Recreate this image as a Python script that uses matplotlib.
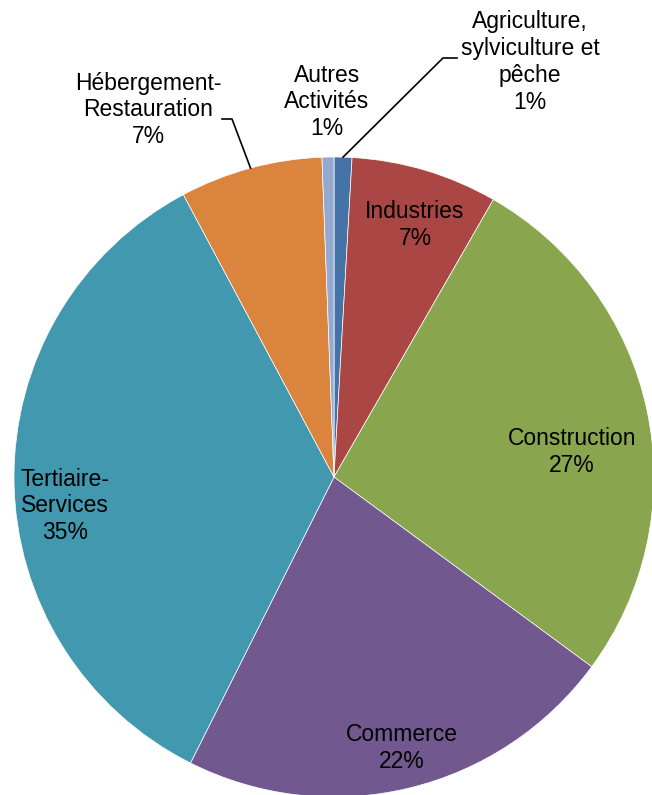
import numpy as np
import matplotlib
matplotlib.use('Agg')
import matplotlib.pyplot as plt

# Répartition des établissements par secteur d'activité (sens horaire depuis midi)
secteurs = ['Agriculture,\nsylviculture et\npêche', 'Industries', 'Construction',
            'Commerce', 'Tertiaire-\nServices', 'Hébergement-\nRestauration',
            'Autres\nActivités']
parts = [0.9, 7.4, 26.8, 22.3, 34.8, 7.2, 0.6]
couleurs = ['#4572A7', '#AA4643', '#89A54E', '#71588F', '#4198AF', '#DB843D', '#93A9CF']

W, H = 652, 795
cx, cy, R = 334, H - 477, 320

plt.rcParams['font.family'] = ['Liberation Sans', 'DejaVu Sans']
fig = plt.figure(figsize=(W / 100, H / 100), dpi=100)
ax = fig.add_axes([0, 0, 1, 1])

wedges, _ = ax.pie(parts, colors=couleurs, startangle=90, counterclock=False,
                   center=(cx, cy), radius=R,
                   wedgeprops=dict(edgecolor='white', linewidth=0.5))
ax.set_xlim(0, W)
ax.set_ylim(0, H)
ax.set_aspect('equal')
ax.axis('off')

total = sum(parts)
labels = [f"{s}\n{round(p / total * 100):.0f}%" for s, p in zip(secteurs, parts)]

def edge_point(i):
    w = wedges[i]
    a = np.deg2rad((w.theta1 + w.theta2) / 2)
    return cx + R * np.cos(a), cy + R * np.sin(a)

txt = dict(ha='center', va='center', fontsize=16.5, linespacing=1.22, color='black')

# position (x, y depuis le haut) de chaque étiquette
label_pos = [(530, 62), (415, 225), (572, 452), (402, 748),
             (65, 506), (148, 110), (327, 102)]
for lab, (x, y) in zip(labels, label_pos):
    ax.text(x, H - y, lab, **txt)

# traits de rappel
x0, y0 = edge_point(0)
ax.plot([x0, 443, 457], [y0, H - 58, H - 58], color='black', lw=1.2)
x5, y5 = edge_point(5)
ax.plot([x5, 232, 222], [y5, H - 119, H - 119], color='black', lw=1.2)

fig.savefig('out.png', dpi=100)
